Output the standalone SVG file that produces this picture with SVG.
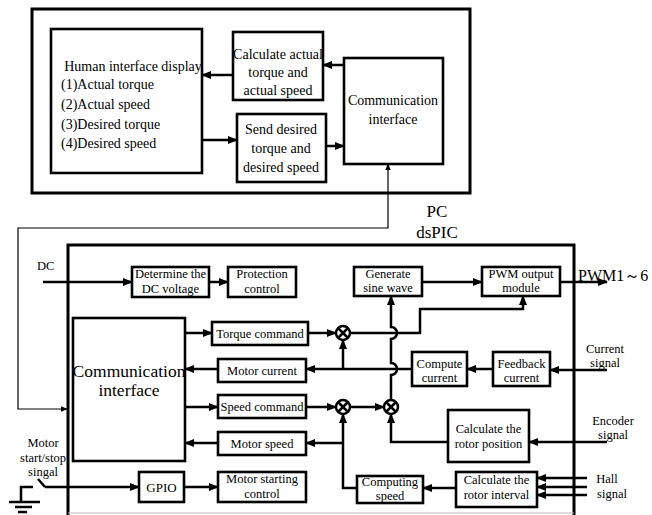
<svg xmlns="http://www.w3.org/2000/svg" width="652" height="515" viewBox="0 0 652 515" font-family="Liberation Serif, Times New Roman, serif">
<defs>
<marker id="a" viewBox="0 0 10 8" refX="9" refY="4" markerWidth="10" markerHeight="8" markerUnits="userSpaceOnUse" orient="auto-start-reverse"><path d="M0,0 L10,4 L0,8 z" fill="#000"/></marker>
<marker id="s" viewBox="0 0 10 8" refX="9" refY="4" markerWidth="7" markerHeight="6" markerUnits="userSpaceOnUse" orient="auto-start-reverse"><path d="M0,0 L10,4 L0,8 z" fill="#000"/></marker>
</defs>
<style>
.b{fill:#fff;stroke:#000;stroke-width:2.6}
.t{font-family:'Liberation Serif',serif;fill:#000}
.m{text-anchor:middle}
.c{fill:none;stroke:#000;stroke-width:2.5;marker-end:url(#a)}
.n{fill:none;stroke:#000;stroke-width:2.5}
.x{fill:#fff;stroke:#000;stroke-width:2.5}
</style>
<rect width="652" height="515" fill="#fff"/>
<g id="pc">
<rect x="32" y="9" width="438" height="184" fill="none" stroke="#000" stroke-width="3"/>
<text class="t m" x="437" y="217" font-size="17">PC</text>
</g>
<g id="human-display">
<rect class="b" x="51" y="29" width="151" height="144"/>
<text class="t m" x="133" y="71" font-size="14">Human interface display</text>
<text class="t" x="61" y="89" font-size="14">(1)Actual torque</text>
<text class="t" x="61" y="109" font-size="14">(2)Actual speed</text>
<text class="t" x="61" y="129" font-size="14">(3)Desired torque</text>
<text class="t" x="61" y="148" font-size="14">(4)Desired speed</text>
</g>
<g id="calc-actual">
<rect class="b" x="233" y="32" width="90" height="68"/>
<text class="t m" x="278" y="59" font-size="14">Calculate actual</text>
<text class="t m" x="278" y="77" font-size="14">torque and</text>
<text class="t m" x="278" y="95" font-size="14">actual speed</text>
</g>
<g id="send-desired">
<rect class="b" x="237" y="114" width="89" height="68"/>
<text class="t m" x="281" y="134" font-size="14">Send desired</text>
<text class="t m" x="281" y="153" font-size="14">torque and</text>
<text class="t m" x="281" y="172" font-size="14">desired speed</text>
</g>
<g id="pc-comm">
<rect class="b" x="344" y="58" width="99" height="106"/>
<text class="t m" x="393" y="105" font-size="14">Communication</text>
<text class="t m" x="393" y="124" font-size="14">interface</text>
</g>
<g id="dspic">
<path d="M68,515 V245 H574 V515" fill="none" stroke="#000" stroke-width="3"/>
<line x1="68" y1="513" x2="574" y2="513" stroke="#bbb" stroke-width="1"/>
<text class="t m" x="437" y="238" font-size="17">dsPIC</text>
</g>
<g id="determine-dc">
<rect class="b" x="132" y="267" width="77" height="30"/>
<text class="t m" x="170.5" y="278" font-size="12.5">Determine the</text>
<text class="t m" x="170.5" y="293" font-size="12.5">DC voltage</text>
</g>
<g id="protection">
<rect class="b" x="228" y="267" width="68" height="30"/>
<text class="t m" x="262" y="278" font-size="12.5">Protection</text>
<text class="t m" x="262" y="293" font-size="12.5">control</text>
</g>
<g id="ds-comm">
<rect class="b" x="73" y="318" width="112" height="143"/>
<text class="t m" x="129" y="377" font-size="17.5">Communication</text>
<text class="t m" x="129" y="396" font-size="17.5">interface</text>
</g>
<g id="torque-cmd">
<rect class="b" x="212" y="322" width="96" height="23"/>
<text class="t m" x="260" y="338" font-size="12.5">Torque command</text>
</g>
<g id="motor-current">
<rect class="b" x="218" y="359" width="88" height="23"/>
<text class="t m" x="262" y="375" font-size="12.5">Motor current</text>
</g>
<g id="speed-cmd">
<rect class="b" x="218" y="395" width="88" height="23"/>
<text class="t m" x="262" y="411" font-size="12.5">Speed command</text>
</g>
<g id="motor-speed">
<rect class="b" x="218" y="432" width="88" height="23"/>
<text class="t m" x="262" y="448" font-size="12.5">Motor speed</text>
</g>
<g id="gpio">
<rect class="b" x="139" y="472" width="45" height="30"/>
<text class="t m" x="161.5" y="492" font-size="13">GPIO</text>
</g>
<g id="motor-start">
<rect class="b" x="218" y="472" width="88" height="30"/>
<text class="t m" x="262" y="483" font-size="12.5">Motor starting</text>
<text class="t m" x="262" y="498" font-size="12.5">control</text>
</g>
<g id="gen-sine">
<rect class="b" x="354" y="267" width="68" height="29"/>
<text class="t m" x="388" y="278" font-size="12.5">Generate</text>
<text class="t m" x="388" y="292" font-size="12.5">sine wave</text>
</g>
<g id="pwm">
<rect class="b" x="482" y="267" width="78" height="29"/>
<text class="t m" x="521" y="278" font-size="12.5">PWM output</text>
<text class="t m" x="521" y="292" font-size="12.5">module</text>
</g>
<g id="compute-current">
<rect class="b" x="412" y="352" width="55" height="34"/>
<text class="t m" x="439.5" y="368" font-size="12.5">Compute</text>
<text class="t m" x="439.5" y="382" font-size="12.5">current</text>
</g>
<g id="feedback-current">
<rect class="b" x="493" y="352" width="57" height="34"/>
<text class="t m" x="521.5" y="368" font-size="12.5">Feedback</text>
<text class="t m" x="521.5" y="382" font-size="12.5">current</text>
</g>
<g id="rotor-position">
<rect class="b" x="448" y="410" width="81" height="52"/>
<text class="t m" x="488.5" y="433" font-size="12.5">Calculate the</text>
<text class="t m" x="488.5" y="448" font-size="12.5">rotor position</text>
</g>
<g id="rotor-interval">
<rect class="b" x="456" y="472" width="81" height="35"/>
<text class="t m" x="496.5" y="484" font-size="12.5">Calculate the</text>
<text class="t m" x="496.5" y="499" font-size="12.5">rotor interval</text>
</g>
<g id="computing-speed">
<rect class="b" x="357" y="476" width="66" height="27"/>
<text class="t m" x="390" y="486" font-size="12.5">Computing</text>
<text class="t m" x="390" y="500" font-size="12.5">speed</text>
</g>
<g id="sum1"><circle class="x" cx="343" cy="333" r="7"/><path class="n" d="M338,328 L348,338 M348,328 L338,338"/></g>
<g id="sum2"><circle class="x" cx="343" cy="407" r="7"/><path class="n" d="M338,402 L348,412 M348,402 L338,412"/></g>
<g id="sum3"><circle class="x" cx="391" cy="407" r="7"/><path class="n" d="M386,402 L396,412 M396,402 L386,412"/></g>
<g id="labels">
<text class="t" x="37" y="270" font-size="12.5">DC</text>
<text class="t" x="578" y="281" font-size="16">PWM1～6</text>
<text class="t m" x="605" y="353" font-size="12.5">Current</text>
<text class="t m" x="605" y="367" font-size="12.5">signal</text>
<text class="t m" x="613" y="425" font-size="12.5">Encoder</text>
<text class="t m" x="613" y="439" font-size="12.5">signal</text>
<text class="t m" x="607" y="483" font-size="12.5">Hall</text>
<text class="t m" x="612" y="498" font-size="12.5">signal</text>
<text class="t m" x="43" y="447" font-size="12.5">Motor</text>
<text class="t m" x="43" y="462" font-size="12.5">start/stop</text>
<text class="t m" x="43" y="476" font-size="12.5">singal</text>
</g>
<g id="connectors">
<path class="c" d="M233,75 H202"/>
<path class="c" d="M344,65 H323"/>
<path class="c" d="M202,140 H237"/>
<path class="c" d="M326,146 H344"/>
<path d="M67,409 H18 V228 H388 V164" fill="none" stroke="#000" stroke-width="1.2" marker-start="url(#s)" marker-end="url(#s)"/>
<path class="c" d="M43,282 H132"/>
<path class="c" d="M209,282 H228"/>
<path class="c" d="M185,333 H212"/>
<path class="c" d="M308,333 H336"/>
<path class="c" d="M350,333 H420 V309 H523 V296"/>
<path class="c" d="M412,369 H306"/>
<path class="c" d="M343,369 V340"/>
<path class="c" d="M218,369 H185"/>
<path class="c" d="M493,369 H467"/>
<path class="c" d="M607,370 H550"/>
<path class="c" d="M185,407 H218"/>
<path class="c" d="M306,407 H336"/>
<path class="c" d="M350,407 H384"/>
<path class="c" d="M218,443 H185"/>
<path class="c" d="M357,488 H343 V414"/>
<path class="c" d="M343,443 H306"/>
<path class="c" d="M456,488 H423"/>
<path class="c" d="M448,442 H391 V414"/>
<path class="c" d="M607,442 H529"/>
<path class="c" d="M391,400 V375 A6,6 0 0 0 391,363 V339 A6,6 0 0 0 391,327 V296"/>
<path class="c" d="M422,282 H482"/>
<path class="c" d="M560,282 H607"/>
<path class="n" d="M21,502 V487 H33 M38,479 L45,487"/>
<path class="c" d="M45,487 H139"/>
<path class="n" d="M9,502 H40 M15,507 H32 M18,512 H27"/>
<path class="c" d="M184,487 H218"/>
<path class="c" d="M587,478 H537"/>
<path class="c" d="M587,487 H537"/>
<path class="c" d="M587,495 H537"/>
</g>
</svg>
